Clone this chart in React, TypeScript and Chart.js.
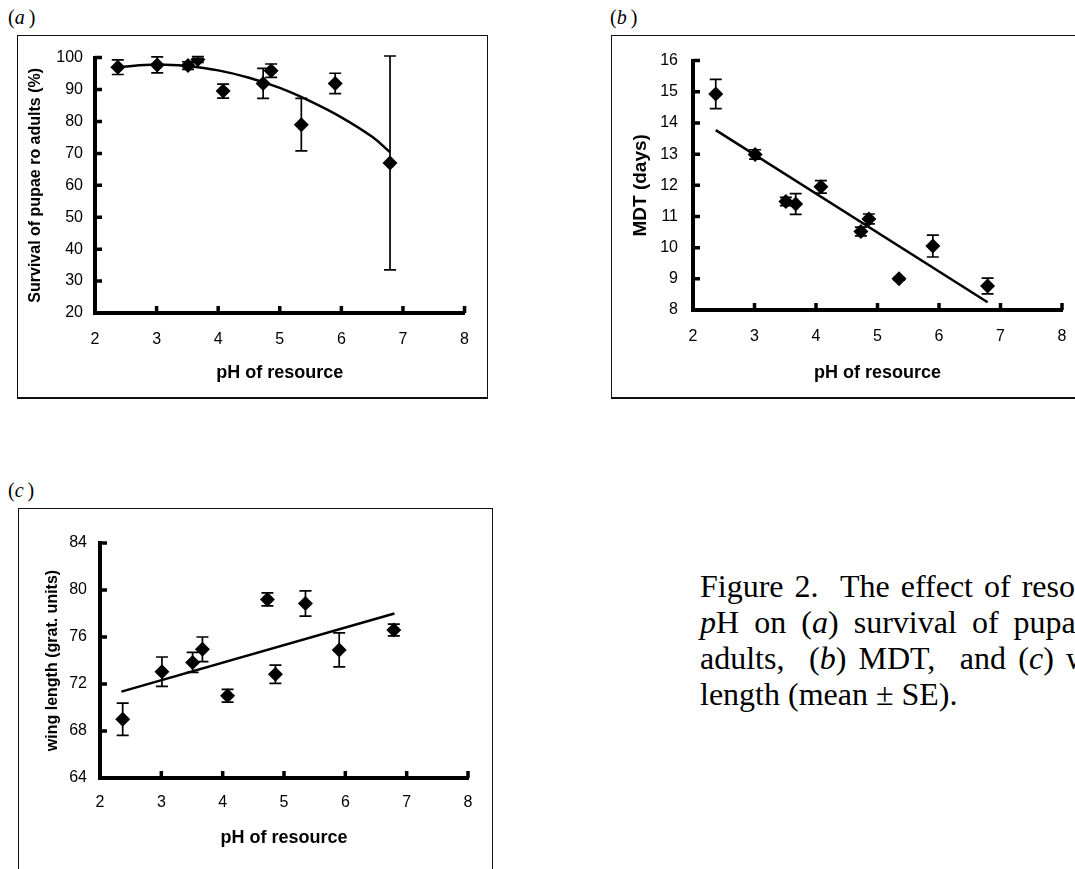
import React, { useEffect, useRef } from "react";
import { Chart, registerables } from "chart.js";

Chart.register(...registerables);

// ---------------- data ----------------
const PH = [2.37, 3.01, 3.51, 3.67, 4.08, 4.73, 4.86, 5.35, 5.9, 6.79];

const SURVIVAL = [97.0, 97.7, 97.5, 99.4, 89.5, 91.9, 95.9, 79.0, 91.9, 67.0];
const SURVIVAL_SE = [2.3, 2.5, 1.2, 0.9, 2.2, 4.7, 2.1, 8.2, 3.2, 33.5];
const SURVIVAL_FIT_PH = [2.37, 3.0, 3.5, 4.0, 4.5, 5.0, 5.5, 6.0, 6.5, 6.79];
const SURVIVAL_FIT = [97.0, 97.8, 97.3, 96.0, 93.7, 90.5, 86.3, 81.3, 75.2, 70.4];

const MDT = [14.93, 12.99, 11.48, 11.4, 11.95, 10.52, 10.92, 9.0, 10.05, 8.77];
const MDT_SE = [0.47, 0.15, 0.13, 0.33, 0.2, 0.14, 0.16, 0.04, 0.35, 0.25];
const MDT_FIT_PH = [2.37, 6.79];
const MDT_FIT = [13.77, 8.25];

const WING = [69.0, 73.05, 73.84, 74.95, 71.0, 79.2, 72.83, 78.85, 74.9, 76.6];
const WING_SE = [1.37, 1.25, 0.85, 1.05, 0.55, 0.55, 0.78, 1.07, 1.45, 0.5];
const WING_FIT_PH = [2.35, 6.8];
const WING_FIT = [71.35, 78.0];

const PH_TICKS = [2, 3, 4, 5, 6, 7, 8];
const SURVIVAL_TICKS = [20, 30, 40, 50, 60, 70, 80, 90, 100];
const MDT_TICKS = [8, 9, 10, 11, 12, 13, 14, 15, 16];
const WING_TICKS = [64, 68, 72, 76, 80, 84];

const X_TITLE = "pH of resource";

// ---------------- plugins ----------------
const errorBarPlugin = {
  id: "errorBars",
  beforeDatasetsDraw(chart: any) {
    const { ctx, scales } = chart;
    const xs = scales.x;
    const ys = scales.y;
    chart.data.datasets.forEach((ds: any) => {
      if (!ds.errors) return;
      ctx.save();
      ctx.strokeStyle = "#000";
      ctx.lineWidth = 1.7;
      ds.data.forEach((p: any, i: number) => {
        const e = ds.errors[i];
        if (!e) return;
        const px = xs.getPixelForValue(p.x);
        const top = ys.getPixelForValue(p.y + e);
        const bot = ys.getPixelForValue(p.y - e);
        ctx.beginPath();
        ctx.moveTo(px, top);
        ctx.lineTo(px, bot);
        ctx.moveTo(px - 6, top);
        ctx.lineTo(px + 6, top);
        ctx.moveTo(px - 6, bot);
        ctx.lineTo(px + 6, bot);
        ctx.stroke();
      });
      ctx.restore();
    });
  },
};

const innerTicksPlugin = {
  id: "innerTicks",
  afterDraw(chart: any) {
    const { ctx, chartArea, scales } = chart;
    const xs = scales.x;
    const ys = scales.y;
    ctx.save();
    ctx.strokeStyle = "#000";
    ctx.lineWidth = 3.5;
    ctx.beginPath();
    ys.ticks.forEach((t: any) => {
      const py = ys.getPixelForValue(t.value);
      ctx.moveTo(chartArea.left, py);
      ctx.lineTo(chartArea.left + 7, py);
    });
    xs.ticks.forEach((t: any) => {
      const px = xs.getPixelForValue(t.value);
      ctx.moveTo(px, chartArea.bottom);
      ctx.lineTo(px, chartArea.bottom - 7);
    });
    ctx.stroke();
    ctx.restore();
  },
};

// ---------------- panel specs ----------------
type Spec = {
  frame: { left: number; top: number; width: number; height: number };
  w: number;
  h: number;
  padTop: number;
  padRight: number;
  yWidth: number;
  xHeight: number;
  xLabelPad: number;
  xTitlePadBottom: number;
  yLabelPad: number;
  yTitle: string;
  yTitleSize: number;
  yTitlePadTop: number;
  yMin: number;
  yMax: number;
  yTicks: number[];
  values: number[];
  errors: number[];
  fitX: number[];
  fitY: number[];
  tension: number;
};

const SPECS: Spec[] = [
  {
    frame: { left: 17, top: 35, width: 471, height: 364 },
    w: 468,
    h: 361,
    padTop: 17,
    padRight: 19,
    yWidth: 77,
    xHeight: 84,
    xLabelPad: 17,
    xTitlePadBottom: 13,
    yLabelPad: 12,
    yTitle: "Survival of pupae ro adults (%)",
    yTitleSize: 16,
    yTitlePadTop: 8,
    yMin: 20,
    yMax: 100,
    yTicks: SURVIVAL_TICKS,
    values: SURVIVAL,
    errors: SURVIVAL_SE,
    fitX: SURVIVAL_FIT_PH,
    fitY: SURVIVAL_FIT,
    tension: 0.4,
  },
  {
    frame: { left: 611, top: 35, width: 540, height: 364 },
    w: 538,
    h: 361,
    padTop: 16,
    padRight: 88,
    yWidth: 81,
    xHeight: 87,
    xLabelPad: 17,
    xTitlePadBottom: 13,
    yLabelPad: 15,
    yTitle: "MDT (days)",
    yTitleSize: 19,
    yTitlePadTop: 17,
    yMin: 8,
    yMax: 16,
    yTicks: MDT_TICKS,
    values: MDT,
    errors: MDT_SE,
    fitX: MDT_FIT_PH,
    fitY: MDT_FIT,
    tension: 0,
  },
  {
    frame: { left: 18, top: 508, width: 475, height: 400 },
    w: 472,
    h: 360,
    padTop: 34,
    padRight: 23,
    yWidth: 81,
    xHeight: 91,
    xLabelPad: 15,
    xTitlePadBottom: 20,
    yLabelPad: 13,
    yTitle: "wing length (grat. units)",
    yTitleSize: 16,
    yTitlePadTop: 24,
    yMin: 64,
    yMax: 84,
    yTicks: WING_TICKS,
    values: WING,
    errors: WING_SE,
    fitX: WING_FIT_PH,
    fitY: WING_FIT,
    tension: 0,
  },
];

const SANS = "'Liberation Sans', Arial, sans-serif";
const SERIF = "'Liberation Serif', 'Times New Roman', serif";

function buildConfig(s: Spec): any {
  return {
    type: "scatter",
    data: {
      datasets: [
        {
          data: s.fitX.map((x, i) => ({ x, y: s.fitY[i] })),
          showLine: true,
          borderColor: "#000",
          borderWidth: 2.5,
          pointRadius: 0,
          tension: s.tension,
          fill: false,
          order: 1,
        },
        {
          data: PH.map((x, i) => ({ x, y: s.values[i] })),
          errors: s.errors,
          pointStyle: "rectRot",
          pointRadius: 7.5,
          backgroundColor: "#000",
          borderColor: "#000",
          borderWidth: 0,
          order: 0,
        },
      ],
    },
    options: {
      animation: false,
      responsive: false,
      maintainAspectRatio: false,
      devicePixelRatio: 1,
      events: [],
      layout: { padding: { left: 0, top: s.padTop, right: s.padRight, bottom: 0 } },
      plugins: { legend: { display: false }, tooltip: { enabled: false } },
      scales: {
        x: {
          type: "linear",
          min: 2,
          max: 8,
          afterBuildTicks: (sc: any) => {
            sc.ticks = PH_TICKS.map((v) => ({ value: v }));
          },
          afterFit: (sc: any) => {
            sc.height = s.xHeight;
          },
          ticks: {
            padding: s.xLabelPad,
            color: "#000",
            font: { family: SANS, size: 16 },
            maxRotation: 0,
          },
          grid: { display: false, drawTicks: false },
          border: { display: true, color: "#000", width: 4 },
          title: {
            display: true,
            text: X_TITLE,
            color: "#000",
            font: { family: SANS, size: 18, weight: "bold" },
            padding: { top: 0, bottom: s.xTitlePadBottom },
          },
        },
        y: {
          type: "linear",
          min: s.yMin,
          max: s.yMax,
          afterBuildTicks: (sc: any) => {
            sc.ticks = s.yTicks.map((v) => ({ value: v }));
          },
          afterFit: (sc: any) => {
            sc.width = s.yWidth;
          },
          ticks: {
            padding: s.yLabelPad,
            color: "#000",
            font: { family: SANS, size: 16 },
          },
          grid: { display: false, drawTicks: false },
          border: { display: true, color: "#000", width: 4 },
          title: {
            display: true,
            text: s.yTitle,
            color: "#000",
            font: { family: SANS, size: s.yTitleSize, weight: "bold" },
            padding: { top: s.yTitlePadTop, bottom: 0 },
          },
        },
      },
    },
    plugins: [errorBarPlugin, innerTicksPlugin],
  };
}

function Panel({ spec }: { spec: Spec }) {
  const ref = useRef<HTMLCanvasElement>(null);
  useEffect(() => {
    const chart = new Chart(ref.current as HTMLCanvasElement, buildConfig(spec));
    return () => chart.destroy();
  }, [spec]);
  const f = spec.frame;
  return (
    <div
      style={{
        position: "absolute",
        left: f.left,
        top: f.top,
        width: f.width,
        height: f.height,
        boxSizing: "border-box",
        border: "1px solid #111",
        borderBottomWidth: 2,
      }}
    >
      <canvas
        ref={ref}
        width={spec.w}
        height={spec.h}
        style={{ position: "absolute", left: 0, top: 0, width: spec.w, height: spec.h }}
      />
    </div>
  );
}

function PanelLabel({ left, top, letter }: { left: number; top: number; letter: string }) {
  return (
    <div
      style={{
        position: "absolute",
        left,
        top,
        fontFamily: SERIF,
        fontSize: 20,
        lineHeight: "20px",
        whiteSpace: "nowrap",
        color: "#000",
      }}
    >
      (<i>{letter}</i>{"\u2009"})
    </div>
  );
}

const lineStyle: React.CSSProperties = {
  height: 36,
  textAlign: "justify",
  textAlignLast: "justify" as any,
};

export default function App() {
  return (
    <div
      style={{
        position: "fixed",
        left: 0,
        top: 0,
        width: 1075,
        height: 869,
        overflow: "hidden",
        background: "#fff",
      }}
    >
      <PanelLabel left={8} top={7} letter="a" />
      <PanelLabel left={610} top={7} letter="b" />
      <PanelLabel left={8} top={480} letter="c" />
      {SPECS.map((s, i) => (
        <Panel key={i} spec={s} />
      ))}
      <div
        style={{
          position: "absolute",
          left: 700,
          top: 568,
          width: 430,
          fontFamily: SERIF,
          fontSize: 32,
          lineHeight: "36px",
          color: "#000",
        }}
      >
        <div style={lineStyle}>Figure 2.{"\u00a0"} The effect of resource</div>
        <div style={lineStyle}>
          <i>p</i>H on (<i>a</i>) survival of pupae to
        </div>
        <div style={lineStyle}>
          adults,{"\u00a0"} (<i>b</i>) MDT,{"\u00a0"} and (<i>c</i>) wing
        </div>
        <div style={{ height: 36, textAlign: "left" }}>length (mean ± SE).</div>
      </div>
    </div>
  );
}
